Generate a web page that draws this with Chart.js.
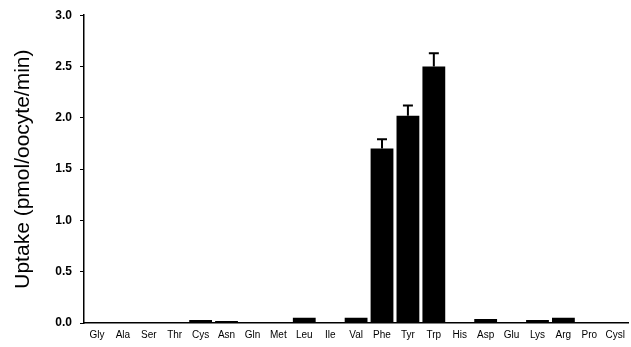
<!DOCTYPE html>
<html>
<head>
<meta charset="utf-8">
<script src="https://cdn.jsdelivr.net/npm/chart.js@4/dist/chart.umd.min.js"></script>
<style>
  body { margin: 0; background: #fff; }
  #wrap { width: 631px; height: 347px; }
</style>
</head>
<body>
<div id="wrap"><canvas id="chart" width="631" height="347"></canvas></div>
<script>
const aminoAcids = ['Gly', 'Ala', 'Ser', 'Thr', 'Cys', 'Asn', 'Gln', 'Met', 'Leu', 'Ile', 'Val',
    'Phe', 'Tyr', 'Trp', 'His', 'Asp', 'Glu', 'Lys', 'Arg', 'Pro', 'Cysl'];
const uptake = [0.005, 0.005, 0.008, 0.008, 0.03, 0.02, 0.01, 0.0, 0.05, 0.0, 0.05,
    1.7, 2.02, 2.5, 0.01, 0.04, 0.005, 0.03, 0.05, 0.005, 0.005];
const uptakeErr = [0, 0, 0, 0, 0, 0, 0, 0, 0, 0, 0,
    0.09, 0.1, 0.13, 0, 0, 0, 0, 0, 0, 0];
const yTicks = [0, 0.5, 1.0, 1.5, 2.0, 2.5, 3.0];

// draws the upper error whiskers on top of the bars
const errorBars = {
    id: 'errorBars',
    afterDatasetsDraw(chart) {
        const ctx = chart.ctx;
        const y = chart.scales.y;
        const meta = chart.getDatasetMeta(0);
        ctx.save();
        ctx.strokeStyle = '#000';
        ctx.lineWidth = 2;
        meta.data.forEach((bar, i) => {
            const err = uptakeErr[i];
            if (!err) return;
            const top = y.getPixelForValue(uptake[i] + err);
            ctx.beginPath();
            ctx.moveTo(bar.x, bar.y);
            ctx.lineTo(bar.x, top);
            ctx.moveTo(bar.x - 5, top);
            ctx.lineTo(bar.x + 5, top);
            ctx.stroke();
        });
        ctx.restore();
    }
};

new Chart(document.getElementById('chart'), {
    type: 'bar',
    data: {
        labels: aminoAcids,
        datasets: [{
            data: uptake,
            backgroundColor: '#000',
            borderWidth: 0,
            barPercentage: 0.88,
            categoryPercentage: 1.0
        }]
    },
    options: {
        responsive: false,
        animation: false,
        layout: { padding: { left: 11, top: 15, right: 2, bottom: 0 } },
        plugins: {
            legend: { display: false },
            tooltip: { enabled: false }
        },
        scales: {
            x: {
                grid: { display: false, drawTicks: false },
                border: { color: '#000', width: 1.5 },
                ticks: {
                    color: '#000',
                    padding: 6,
                    maxRotation: 0,
                    autoSkip: false,
                    font: { family: 'Liberation Sans', size: 10 }
                },
                afterFit(scale) { scale.height = 24; }
            },
            y: {
                min: 0,
                max: 3,
                afterBuildTicks(scale) {
                    scale.ticks = yTicks.map(v => ({ value: v }));
                },
                grid: { display: true, drawOnChartArea: false, drawTicks: true, tickLength: 4, color: '#000', lineWidth: 1 },
                border: { color: '#000', width: 1.5 },
                ticks: {
                    color: '#000',
                    padding: 8,
                    font: { family: 'Liberation Sans', size: 12, weight: 'bold' },
                    callback: v => v.toFixed(1)
                },
                title: {
                    display: true,
                    text: 'Uptake (pmol/oocyte/min)',
                    color: '#000',
                    padding: { top: 0, bottom: 0 },
                    font: { family: 'Liberation Sans', size: 21 }
                },
                afterFit(scale) { scale.width = 73; }
            }
        }
    },
    plugins: [errorBars]
});
</script>
</body>
</html>
